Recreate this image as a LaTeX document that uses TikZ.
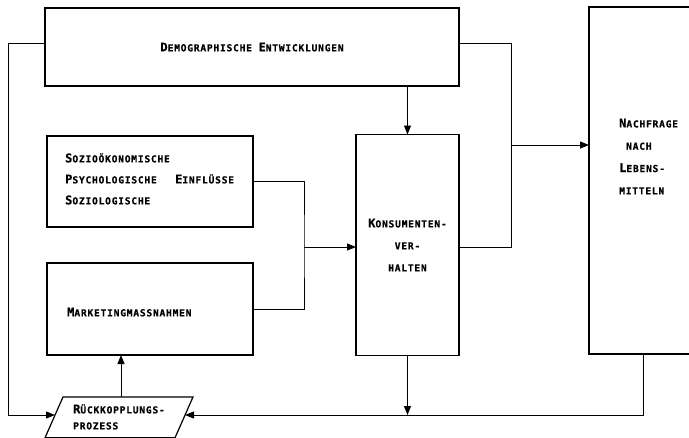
\documentclass[tikz,border=0pt]{standalone}
\usepackage{fontspec}
\setmainfont{DejaVu Sans Mono}[LetterSpace=8,BoldFeatures={FakeBold=0.5}]
\usetikzlibrary{arrows.meta,calc}
\newcommand{\sk}[2]{{\fontsize{12}{10}\selectfont #1}{\fontsize{9.6}{10}\selectfont #2}}
\begin{document}
\begin{tikzpicture}[x=1pt,y=-1pt,
  box/.style={draw,line width=1.2pt,inner sep=0pt,outer sep=0pt},
  lab/.style={font=\bfseries\fontsize{9.6}{22}\selectfont,inner sep=0pt},
  conn/.style={line width=0.9pt},
  arr/.style={conn,-{Triangle[length=9pt,width=7pt]}}]
\useasboundingbox (0,0) rectangle (689,437);
\clip (0,0) rectangle (689,437);
% boxes
\node[box,minimum width=414pt,minimum height=78pt,font=\bfseries\fontsize{9.6}{22}\selectfont] (demo) at (252,47) {\sk{D}{EMOGRAPHISCHE} \sk{E}{NTWICKLUNGEN}};
\node[box,minimum width=206pt,minimum height=91pt] (socio) at (150,181.5) {};
\node[box,minimum width=206pt,minimum height=92pt] (market) at (150,309) {};
\node[box,minimum width=103pt,minimum height=221pt,align=center,font=\bfseries\fontsize{9.6}{22}\selectfont] (konsum) at (407.5,245) {\sk{K}{ONSUMENTEN-}\\ \sk{}{VER-}\\ \sk{}{HALTEN}};
\node[box,minimum width=131pt,minimum height=347pt] (nach) at (654.5,180.5) {};
% texts
\node[lab,anchor=west,align=left,font=\bfseries\fontsize{9.6}{21}\selectfont] (sociotxt) at (65,179) {\sk{S}{OZIOÖKONOMISCHE}\\ \makebox[110pt][l]{\sk{P}{SYCHOLOGISCHE}}\sk{E}{INFLÜSSE}\\ \sk{S}{OZIOLOGISCHE}};
\node[lab,anchor=west] (markettxt) at (67,312) {\sk{M}{ARKETINGMASSNAHMEN}};
\node[lab,anchor=west,align=left,font=\bfseries\fontsize{9.6}{22.3}\selectfont] (nachtxt) at (619,156.5) {\sk{N}{ACHFRAGE}\\ \hspace*{7pt}\sk{}{NACH}\\ \sk{L}{EBENS-}\\ \sk{}{MITTELN}};
% feedback parallelogram
\draw[box] (63,397) -- (193,397) -- (175,437.8) -- (45,437.8) -- cycle;
\node[lab,anchor=west,align=left,font=\bfseries\fontsize{9.6}{16}\selectfont] (rueck) at (73,417) {\sk{R}{ÜCKKOPPLUNGS-}\\ \sk{}{PROZESS}};
\coordinate (rl) at (55,415);
\coordinate (rr) at (185,415);
\coordinate (rt) at (121,397);
% junctions
\coordinate (lc) at (8,43);
\coordinate (rc) at (511,43);
\coordinate (rc2) at (511,247);
\coordinate (j1) at (511,145);
\coordinate (mid) at (304,247);
\coordinate (nb) at (643,415);
% connectors
\draw[arr] (demo.west |- lc) -- (lc) |- (rl);
\draw[conn] (demo.east |- rc) -- (rc) -- (rc2) -- (konsum.east |- rc2);
\draw[arr] (j1) -- (nach.west |- j1);
\draw[arr] (konsum.north |- demo.south) -- (konsum.north);
\draw[conn] (socio.east) -| (mid) |- (market.east);
\draw[arr] (mid) -- (konsum.west |- mid);
\draw[arr] (rt) -- (rt |- market.south);
\draw[arr] (konsum.south) -- (konsum.south |- rl);
\draw[arr] (nb |- nach.south) -- (nb) -- (rr);
\end{tikzpicture}
\end{document}
